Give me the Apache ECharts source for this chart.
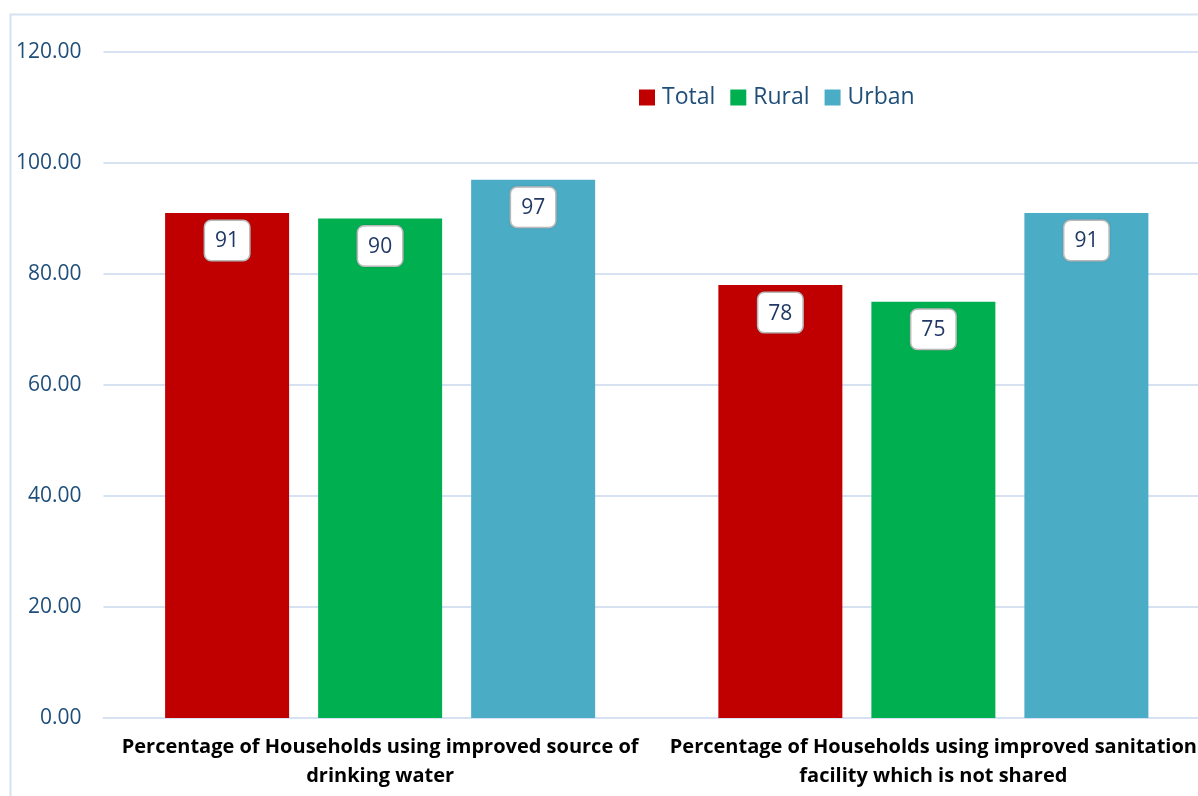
<!DOCTYPE html>
<html>
<head>
<meta charset="utf-8">
<script src="https://cdn.jsdelivr.net/npm/echarts@6/dist/echarts.min.js"></script>
<style>
  html, body { margin: 0; padding: 0; background: #fff; overflow: hidden; }
  /* plot runs past the right edge of the window, as in the reference */
  #chart { width: 1210px; height: 796px; }
</style>
</head>
<body>
<div id="chart"></div>
<script>
// categories and values
const categories = [
  'Percentage of Households using improved source of\ndrinking water',
  'Percentage of Households using improved sanitation\nfacility which is not shared'
]
const total = [91, 78]
const rural = [90, 75]
const urban = [97, 91]
const yTicks = [0, 20, 40, 60, 80, 100, 120]

const myChart = echarts.init(document.getElementById('chart'))

// shared label style for the value boxes
const boxLabel = {
  show: true,
  position: 'insideTop',
  distance: 8,
  color: '#1F3864',
  fontFamily: 'Open Sans',
  fontSize: 21,
  backgroundColor: '#fff',
  borderColor: '#BFBFBF',
  borderWidth: 1.5,
  borderRadius: 6,
  padding: [10, 10, 8, 10],
  shadowColor: 'rgba(0,0,0,0.15)',
  shadowBlur: 2
}

myChart.setOption({
  animation: false,
  textStyle: {
    fontFamily: 'Open Sans'
  },
  graphic: [
    {
      type: 'rect',
      shape: { x: 10.5, y: 14.5, width: 1300, height: 900 },
      style: { fill: 'none', stroke: '#D6E2F2', lineWidth: 2 },
      silent: true
    }
  ],
  legend: {
    top: 81,
    left: 634,
    itemWidth: 16,
    itemHeight: 16,
    itemGap: 15,
    icon: 'rect',
    textStyle: {
      color: '#1F4E79',
      fontSize: 23,
      padding: [0, 0, 0, 2]
    },
    data: ['Total', 'Rural', 'Urban']
  },
  grid: {
    top: 52,
    left: 103.5,
    right: 0,
    bottom: 78,
    containLabel: false
  },
  xAxis: {
    type: 'category',
    data: categories,
    axisLine: { lineStyle: { color: '#D6E2F2', width: 2 } },
    axisTick: { show: false },
    axisLabel: {
      color: '#000',
      fontWeight: 'bold',
      fontSize: 20,
      lineHeight: 29,
      margin: 15,
      interval: 0
    }
  },
  yAxis: {
    type: 'value',
    min: 0,
    max: 120,
    interval: 20,
    axisLine: { show: false },
    axisTick: { show: false },
    axisLabel: {
      color: '#1F4E79',
      fontSize: 21,
      margin: 22,
      formatter: v => yTicks.includes(v) ? v.toFixed(2) : ''
    },
    splitLine: {
      lineStyle: { color: '#D6E2F2', width: 2 }
    }
  },
  series: [
    {
      name: 'Total',
      type: 'bar',
      data: total,
      barWidth: 124,
      barGap: '23.4%',
      itemStyle: { color: '#C00000' },
      label: boxLabel
    },
    {
      name: 'Rural',
      type: 'bar',
      data: rural,
      barWidth: 124,
      barGap: '23.4%',
      itemStyle: { color: '#00B050' },
      label: boxLabel
    },
    {
      name: 'Urban',
      type: 'bar',
      data: urban,
      barWidth: 124,
      barGap: '23.4%',
      itemStyle: { color: '#4BACC6' },
      label: boxLabel
    }
  ]
})
</script>
</body>
</html>
